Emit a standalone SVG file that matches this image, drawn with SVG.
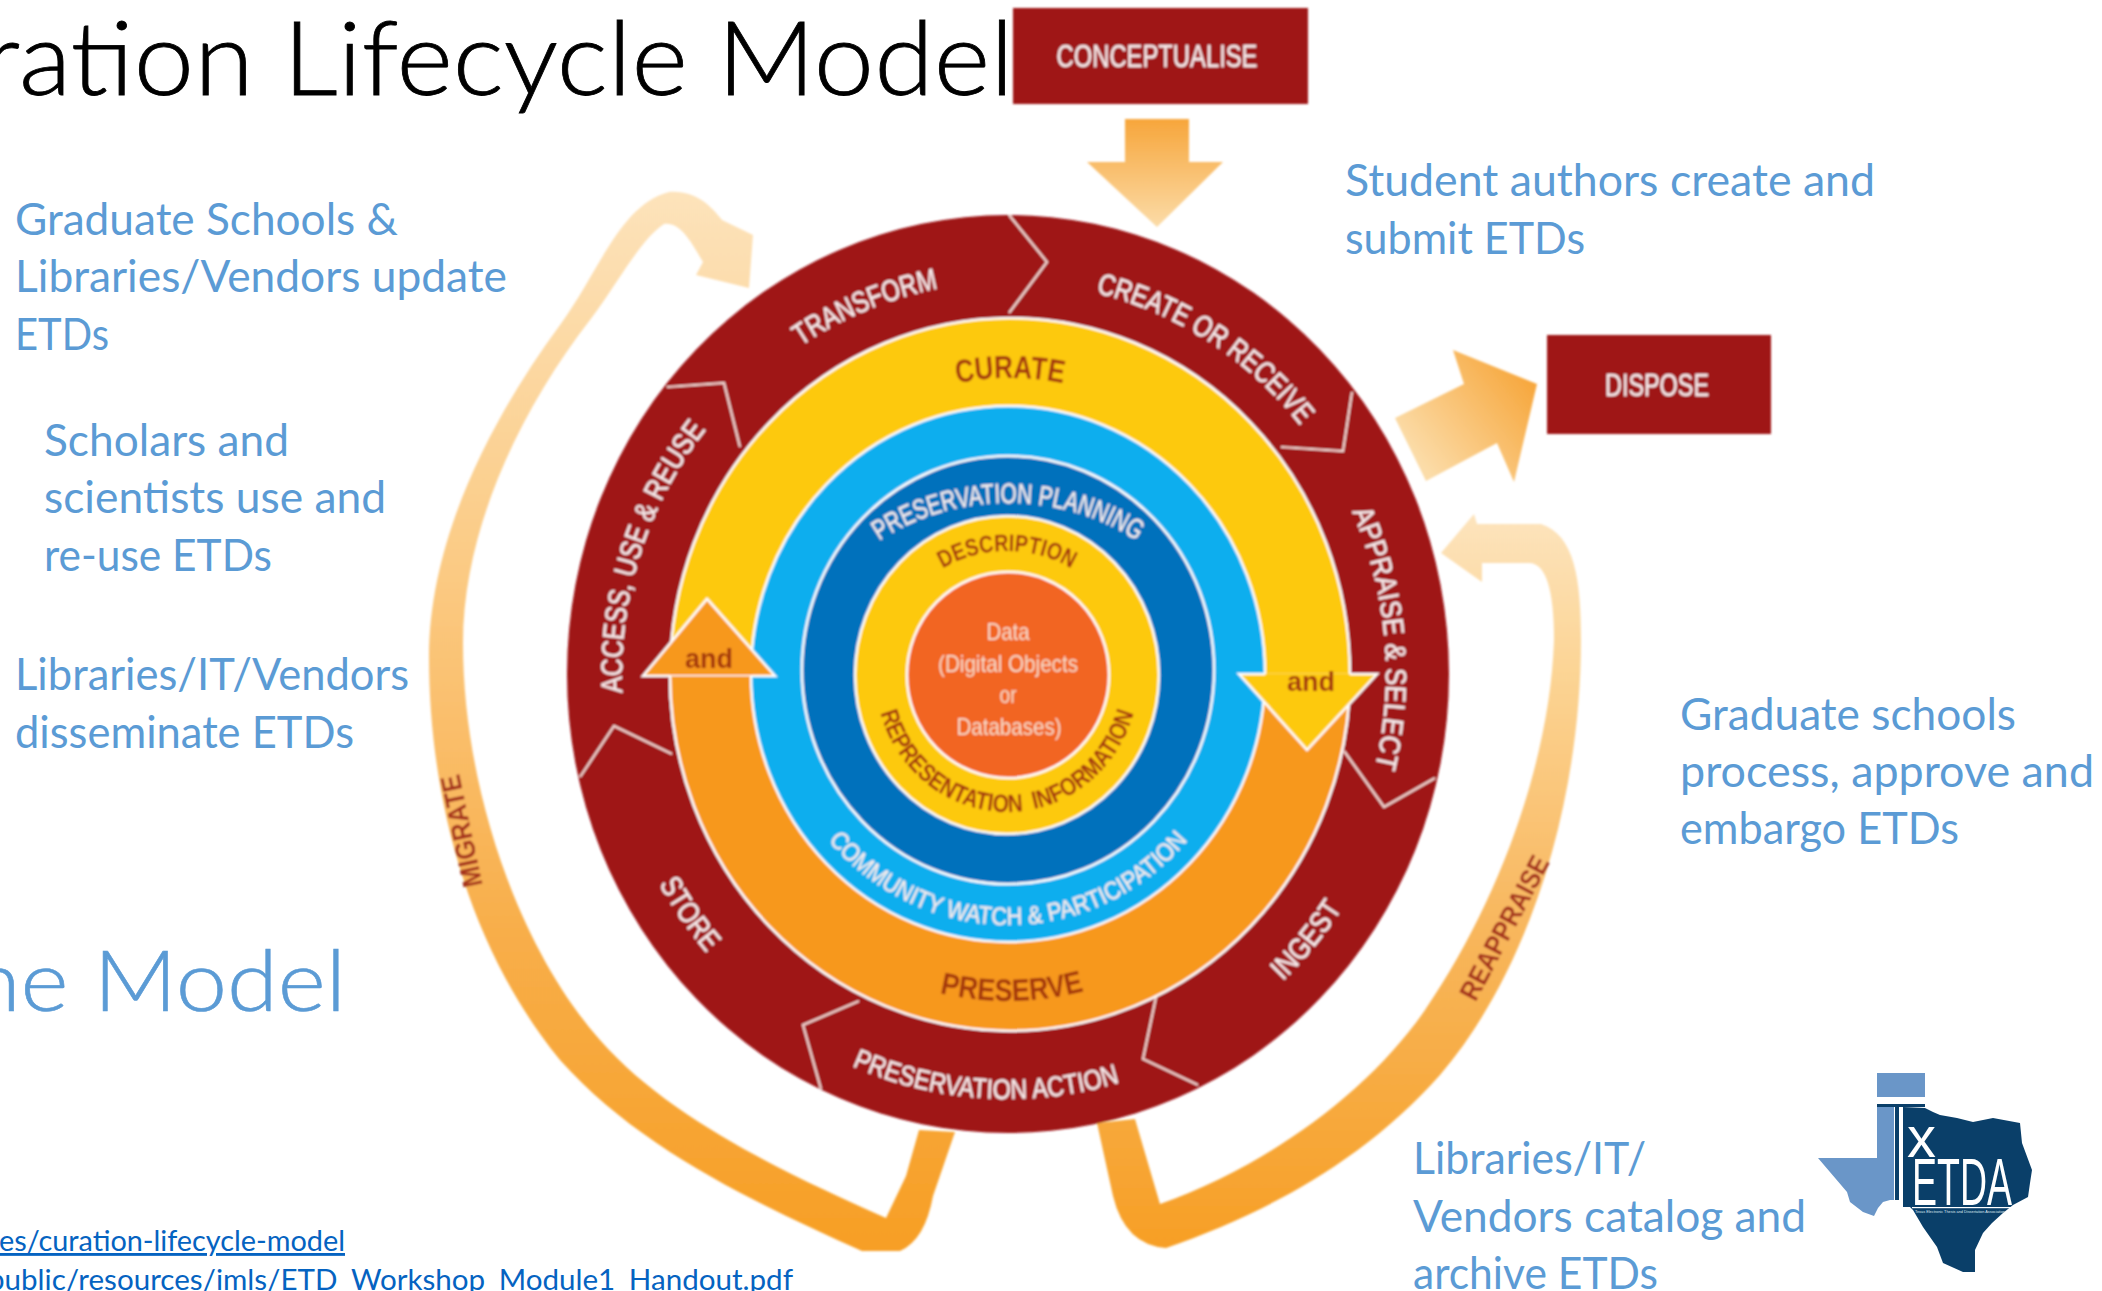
<svg xmlns="http://www.w3.org/2000/svg" width="2102" height="1291" viewBox="0 0 2102 1291">
<style>
text{font-family:"Liberation Sans",Arial,sans-serif}
.body,.title,.model,.link{font-family:Lato,"Open Sans",sans-serif}
.body{font-size:45px;fill:#5b9bd5}
.title{font-size:102px;font-weight:300;fill:#000;stroke:#000;stroke-width:.8}
.model{font-size:84px;font-weight:300;fill:#5b9bd5;stroke:#5b9bd5;stroke-width:.6}
.link{font-size:28.5px;fill:#0563c1}
.wt{fill:#f6ecec;stroke:#f6ecec;stroke-width:.4}
.br{fill:#a5380a;font-weight:700}
.mg{fill:#a6321a;font-weight:700}
.div{fill:none;stroke:#f3d9d4;stroke-width:2.2;stroke-linejoin:miter}
.rim{stroke:#fff;stroke-width:2.5}
.a{text-anchor:middle}
</style>
<defs>
<filter id="soft" filterUnits="userSpaceOnUse" x="0" y="0" width="2102" height="1291"><feGaussianBlur stdDeviation="0.8"/></filter>
<linearGradient id="gMig" gradientUnits="userSpaceOnUse" x1="0" y1="1250" x2="0" y2="190"><stop offset="0" stop-color="#f79f25"/><stop offset=".3" stop-color="#f8ae4a"/><stop offset=".65" stop-color="#fbcb85"/><stop offset="1" stop-color="#fde3bb"/></linearGradient>
<linearGradient id="gRea" gradientUnits="userSpaceOnUse" x1="0" y1="1250" x2="0" y2="520"><stop offset="0" stop-color="#f79f25"/><stop offset=".45" stop-color="#f8b75e"/><stop offset=".8" stop-color="#fcd596"/><stop offset="1" stop-color="#fde3bb"/></linearGradient>
<linearGradient id="gCon" gradientUnits="userSpaceOnUse" x1="0" y1="119" x2="0" y2="227"><stop offset="0" stop-color="#f7a63b"/><stop offset="1" stop-color="#fbdca8"/></linearGradient>
<linearGradient id="gDis" gradientUnits="userSpaceOnUse" x1="1426" y1="470" x2="1537" y2="384"><stop offset="0" stop-color="#fbdca8"/><stop offset="1" stop-color="#f7a63b"/></linearGradient>
<path id="tMid" d="M1008 1066A378 392 0 1 1 1008 282A378 392 0 1 1 1008 1066"/>
<path id="tAcc" d="M1008 1066A386 392 0 1 1 1008 282A386 392 0 1 1 1008 1066"/>
<path id="bMid" d="M1008 254A403 420 0 1 0 1008 1094A403 420 0 1 0 1008 254"/>
<path id="tCur" d="M1010 970A280 296 0 1 1 1010 378A280 296 0 1 1 1010 970"/>
<path id="bPre" d="M1008 347A312 327 0 1 0 1008 1001A312 327 0 1 0 1008 347"/>
<path id="bAct" d="M1008 249A405 425 0 1 0 1008 1099A405 425 0 1 0 1008 249"/>
<path id="tPla" d="M1008 845A205 171 0 1 1 1008 503A205 171 0 1 1 1008 845"/>
<path id="tDes" d="M1007 797A125 123 0 1 1 1007 551A125 123 0 1 1 1007 797"/>
<path id="bRep" d="M1007 536A132 138 0 1 0 1007 812A132 138 0 1 0 1007 536"/>
<path id="bCom" d="M1008 423A240 251 0 1 0 1008 925A240 251 0 1 0 1008 423"/>
</defs>

<g id="slide-text">
<text class="title" x="-18" y="95" textLength="1032" lengthAdjust="spacingAndGlyphs">ration Lifecycle Model</text>
<text class="model" x="-30" y="1011" textLength="376" lengthAdjust="spacingAndGlyphs">ne Model</text>
<text class="link" x="-1" y="1251" textLength="346" lengthAdjust="spacingAndGlyphs" text-decoration="underline">es/curation-lifecycle-model</text>
<text class="link" x="-12" y="1289.5" textLength="805" lengthAdjust="spacingAndGlyphs">public/resources/imls/ETD_Workshop_Module1_Handout.pdf</text>
</g>

<g id="notes">
<text class="body" x="15" y="235" textLength="383" lengthAdjust="spacingAndGlyphs">Graduate Schools &amp;</text>
<text class="body" x="15" y="292" textLength="492" lengthAdjust="spacingAndGlyphs">Libraries/Vendors update</text>
<text class="body" x="15" y="350" textLength="94" lengthAdjust="spacingAndGlyphs">ETDs</text>
<text class="body" x="44" y="456" textLength="245" lengthAdjust="spacingAndGlyphs">Scholars and</text>
<text class="body" x="44" y="513" textLength="342" lengthAdjust="spacingAndGlyphs">scientists use and</text>
<text class="body" x="44" y="571" textLength="228" lengthAdjust="spacingAndGlyphs">re-use ETDs</text>
<text class="body" x="15" y="690" textLength="394" lengthAdjust="spacingAndGlyphs">Libraries/IT/Vendors</text>
<text class="body" x="15" y="748" textLength="339" lengthAdjust="spacingAndGlyphs">disseminate ETDs</text>
<text class="body" x="1345" y="196" textLength="530" lengthAdjust="spacingAndGlyphs">Student authors create and</text>
<text class="body" x="1345" y="254" textLength="240" lengthAdjust="spacingAndGlyphs">submit ETDs</text>
<text class="body" x="1680" y="729.500" textLength="336" lengthAdjust="spacingAndGlyphs">Graduate schools</text>
<text class="body" x="1680" y="787" textLength="414" lengthAdjust="spacingAndGlyphs">process, approve and</text>
<text class="body" x="1680" y="844" textLength="279" lengthAdjust="spacingAndGlyphs">embargo ETDs</text>
<text class="body" x="1413" y="1174" textLength="233" lengthAdjust="spacingAndGlyphs">Libraries/IT/</text>
<text class="body" x="1413" y="1232" textLength="393" lengthAdjust="spacingAndGlyphs">Vendors catalog and</text>
<text class="body" x="1413" y="1289" textLength="245" lengthAdjust="spacingAndGlyphs">archive ETDs</text>
</g>

<g id="lifecycle" filter="url(#soft)">
<g id="connectors">
<path id="migrate" fill="url(#gMig)" d="M955,1132L933,1196Q925,1240 900,1251L862,1251C760,1205 640,1150 560,1060C470,950 429,800 429,657C429,540 490,420 560,325C600,270 620,205 669,192C695,190 710,205 722,220L753,235L749,288L696,275L703,262C690,240 680,222 664,224C640,240 620,280 590,320C520,410 463,530 463,643C463,790 520,950 600,1040C670,1120 790,1175 886,1218L906,1176L919,1130Z"/>
<path id="reappraise" fill="url(#gRea)" d="M1097,1123L1113,1196Q1125,1245 1166,1248C1260,1215 1360,1165 1440,1075C1530,970 1581,800 1581,640C1581,580 1575,535 1541,524L1477,524L1474,514L1441,553L1482,582L1482,563L1530,563Q1554,565 1554,640C1550,760 1500,900 1425,1010C1370,1090 1270,1165 1160,1204L1135,1119Z"/>
<polygon id="conceptualise-arrow" fill="url(#gCon)" points="1125,119 1189,119 1189,162 1223,162 1157,227 1087,162 1125,162"/>
<polygon id="dispose-arrow" fill="url(#gDis)" points="1395,418 1464,384 1453,350 1537,384 1514,482 1497,443 1426,481"/>
</g>

<g id="conceptualise"><rect x="1013" y="8" width="295" height="96" fill="#9f1319"/><text class="wt a" x="1157" y="67" font-size="31" textLength="201" lengthAdjust="spacingAndGlyphs">CONCEPTUALISE</text></g>
<g id="dispose"><rect x="1547" y="335" width="224" height="99" fill="#9f1319"/><text class="wt a" x="1657" y="396" font-size="31" textLength="104" lengthAdjust="spacingAndGlyphs">DISPOSE</text></g>

<g id="sequential-ring">
<ellipse cx="1008" cy="674" rx="441" ry="459" fill="#9f1319"/>
<polyline class="div" points="1009,215 1047,262 1009,313"/>
<polyline class="div" points="1352,392 1343,451 1281,447"/>
<polyline class="div" points="1344,751 1384,807 1435,778"/>
<polyline class="div" points="1156,997 1143,1059 1198,1085"/>
<polyline class="div" points="859,1001 803,1025 821,1089"/>
<polyline class="div" points="580,777 614,726 672,754"/>
<polyline class="div" points="667,387 724,383 740,447"/>
<text class="wt a" font-size="30"><textPath href="#tMid" startOffset="44%" textLength="150" lengthAdjust="spacingAndGlyphs">TRANSFORM</textPath></text>
<text class="wt a" font-size="30"><textPath href="#tMid" startOffset="58.8%" textLength="248" lengthAdjust="spacingAndGlyphs">CREATE OR RECEIVE</textPath></text>
<text class="wt a" font-size="29"><textPath href="#tMid" startOffset="73.5%" textLength="262" lengthAdjust="spacingAndGlyphs">APPRAISE &amp; SELECT</textPath></text>
<text class="wt a" font-size="30"><textPath href="#tAcc" startOffset="30%" textLength="282" lengthAdjust="spacingAndGlyphs">ACCESS, USE &amp; REUSE</textPath></text>
<text class="wt a" font-size="30"><textPath href="#bMid" startOffset="35.1%" textLength="84" lengthAdjust="spacingAndGlyphs">STORE</textPath></text>
<text class="wt a" font-size="30"><textPath href="#bMid" startOffset="63.6%" textLength="94" lengthAdjust="spacingAndGlyphs">INGEST</textPath></text>
<text class="wt a" font-size="28"><textPath href="#bAct" startOffset="49.1%" textLength="274" lengthAdjust="spacingAndGlyphs">PRESERVATION ACTION</textPath></text>
</g>

<g id="curate-preserve">
<ellipse class="rim" cx="1010" cy="674" rx="340" ry="356" fill="#fdc90a"/>
<path class="rim" d="M670 675A340 356 0 0 0 1350 675Z" fill="#f7981f"/>
<ellipse class="rim" cx="1008" cy="674" rx="257" ry="268" fill="#0caeee"/>
<polygon fill="#f7981f" points="643,675 707,599 775,675"/>
<polyline fill="none" class="rim" points="670,676 643,676 707,599 775,676 752,676"/>
<polygon fill="#fdc90a" points="1239,674 1377,674 1307,750"/>
<polyline fill="none" class="rim" points="1265,674 1239,674 1307,750 1377,674 1350,674"/>
<text class="br a" x="709" y="668" font-size="27">and</text>
<text class="br a" x="1311" y="691" font-size="27">and</text>
<text class="br a" font-size="32"><textPath href="#tCur" startOffset="50%" textLength="107" lengthAdjust="spacingAndGlyphs">CURATE</textPath></text>
<text class="br a" font-size="31"><textPath href="#bPre" startOffset="50.2%" textLength="146" lengthAdjust="spacingAndGlyphs">PRESERVE</textPath></text>
<text class="wt a" font-size="25"><textPath href="#bCom" startOffset="50%" textLength="410" lengthAdjust="spacingAndGlyphs">COMMUNITY WATCH &amp; PARTICIPATION</textPath></text>
</g>

<g id="planning-ring">
<ellipse class="rim" cx="1008" cy="670" rx="206" ry="214" fill="#0071bc"/>
<text class="wt a" font-size="28"><textPath href="#tPla" startOffset="50%" textLength="272" lengthAdjust="spacingAndGlyphs">PRESERVATION PLANNING</textPath></text>
</g>
<g id="description-ring">
<ellipse class="rim" cx="1007" cy="675" rx="152" ry="159" fill="#fdc90a"/>
<text class="br a" font-size="24"><textPath href="#tDes" startOffset="50%" textLength="135" lengthAdjust="spacingAndGlyphs">DESCRIPTION</textPath></text>
<text class="br a" font-size="25" word-spacing="6"><textPath href="#bRep" startOffset="50%" textLength="345" lengthAdjust="spacingAndGlyphs">REPRESENTATION INFORMATION</textPath></text>
</g>
<g id="data">
<ellipse class="rim" cx="1008" cy="675" rx="101" ry="103" fill="#f26522"/>
<g fill="#f7dcc8" font-size="24">
<text class="a" x="1008" y="640" textLength="43" lengthAdjust="spacingAndGlyphs">Data</text>
<text class="a" x="1008" y="672" textLength="140" lengthAdjust="spacingAndGlyphs">(Digital Objects</text>
<text class="a" x="1008" y="703" textLength="17" lengthAdjust="spacingAndGlyphs">or</text>
<text class="a" x="1009" y="735" textLength="105" lengthAdjust="spacingAndGlyphs">Databases)</text>
</g>
</g>
<text class="mg a" font-size="28" transform="translate(462,831) rotate(-102)" y="9" textLength="114" lengthAdjust="spacingAndGlyphs">MIGRATE</text>
<text class="mg a" font-size="28" transform="translate(1505,928) rotate(-62)" y="9" textLength="159" lengthAdjust="spacingAndGlyphs">REAPPRAISE</text>
</g>

<g id="logo">
<rect x="1877" y="1073" width="48" height="24" fill="#6a96c8"/>
<polygon fill="#6a96c8" points="1877,1107 1894,1107 1894,1200 1890,1200 1883,1202 1878,1208 1874,1216 1863,1212 1850,1202 1847,1192 1818,1158 1877,1158"/>
<polygon fill="#0a3f69" points="1903,1107 1925,1108 1933,1112 1940,1115 1957,1118 1973,1122 1993,1118 2020,1123 2022,1143 2032,1170 2030,1183 2028,1197 2013,1205 2003,1213 1992,1223 1983,1233 1975,1250 1975,1272 1963,1272 1943,1263 1937,1247 1923,1227 1913,1210 1910,1207 1903,1207"/>
<rect x="1877" y="1104" width="48" height="3" fill="#0a3f69"/>
<rect x="1895" y="1104" width="4" height="96" fill="#0a3f69"/>
<text x="1907" y="1157" font-size="58" fill="#fff">x</text>
<text x="1912" y="1205" font-size="67" fill="#fff" textLength="100" lengthAdjust="spacingAndGlyphs">ETDA</text>
<rect x="1912" y="1207" width="100" height="1.2" fill="#fff"/>
<text x="1915" y="1213" font-size="4" fill="#dfe8f0" textLength="90" lengthAdjust="spacingAndGlyphs">Texas Electronic Thesis and Dissertation Association</text>
</g>
</svg>
